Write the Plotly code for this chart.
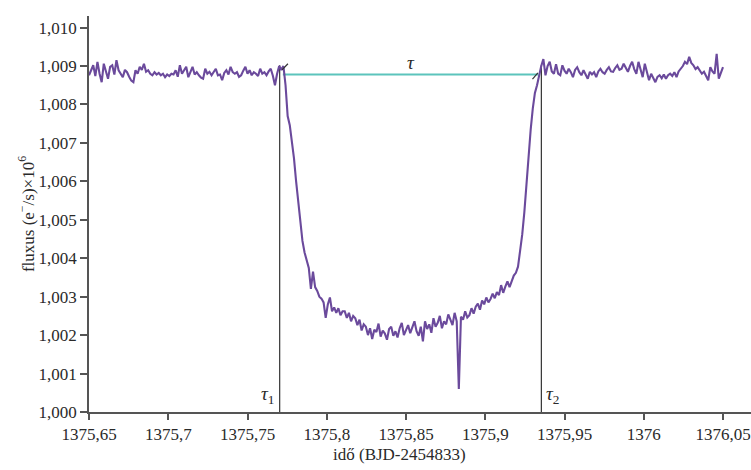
import numpy as np
import plotly.graph_objects as go

# Sampling grid of the light curve (days, BJD-2454833)
T_START = 1375.65
CADENCE = 0.4 / 300

# Flux (10^6 e-/s) before first contact
flux_pre = [
    1.00876, 1.00888, 1.00902, 1.00874, 1.00911, 1.00880, 1.00858, 1.00906, 1.00884, 1.00867,
    1.00898, 1.00902, 1.00878, 1.00915, 1.00889, 1.00880, 1.00871, 1.00890, 1.00884, 1.00872,
    1.00862, 1.00858, 1.00889, 1.00880, 1.00898, 1.00890, 1.00906, 1.00885, 1.00889, 1.00880,
    1.00876, 1.00884, 1.00878, 1.00882, 1.00876, 1.00880, 1.00871, 1.00878, 1.00874, 1.00880,
    1.00878, 1.00889, 1.00872, 1.00902, 1.00880, 1.00889, 1.00898, 1.00871, 1.00884, 1.00898,
    1.00878, 1.00884, 1.00876, 1.00870, 1.00867, 1.00893, 1.00880, 1.00885, 1.00876, 1.00884,
    1.00893, 1.00876, 1.00878, 1.00863, 1.00882, 1.00889, 1.00878, 1.00898, 1.00884, 1.00880,
    1.00884, 1.00872, 1.00876, 1.00888, 1.00898, 1.00880, 1.00889, 1.00876, 1.00884, 1.00880,
    1.00874, 1.00893, 1.00880, 1.00884, 1.00876, 1.00886, 1.00893, 1.00875, 1.00850, 1.00880,
    1.00900,
]

# Flux during the transit (ingress, bottom, egress)
flux_transit = [
    1.00890, 1.00900, 1.00850, 1.00770, 1.00746, 1.00705, 1.00660, 1.00600, 1.00545, 1.00495,
    1.00445, 1.00415, 1.00395, 1.00375, 1.00320, 1.00365, 1.00325, 1.00315, 1.00300, 1.00295,
    1.00285, 1.00245, 1.00280, 1.00298, 1.00262, 1.00272, 1.00258, 1.00270, 1.00252, 1.00262,
    1.00262, 1.00245, 1.00258, 1.00236, 1.00250, 1.00244, 1.00226, 1.00240, 1.00212, 1.00228,
    1.00222, 1.00200, 1.00218, 1.00190, 1.00214, 1.00208, 1.00230, 1.00196, 1.00212, 1.00204,
    1.00188, 1.00216, 1.00222, 1.00198, 1.00210, 1.00194, 1.00218, 1.00232, 1.00200, 1.00214,
    1.00226, 1.00205, 1.00218, 1.00236, 1.00210, 1.00198, 1.00222, 1.00184, 1.00236, 1.00216,
    1.00228, 1.00206, 1.00244, 1.00222, 1.00232, 1.00250, 1.00218, 1.00236, 1.00228, 1.00254,
    1.00240, 1.00226, 1.00258, 1.00236, 1.00060, 1.00248, 1.00240, 1.00262, 1.00246, 1.00252,
    1.00270, 1.00256, 1.00274, 1.00282, 1.00266, 1.00290, 1.00280, 1.00298, 1.00285, 1.00294,
    1.00308, 1.00296, 1.00312, 1.00304, 1.00330, 1.00310, 1.00326, 1.00340, 1.00325, 1.00342,
    1.00355, 1.00362, 1.00378, 1.00420, 1.00462, 1.00520, 1.00600, 1.00660, 1.00735, 1.00790,
    1.00830, 1.00850, 1.00878, 1.00900, 1.00918,
]

# Flux after last contact
flux_post = [
    1.00876, 1.00900, 1.00911, 1.00886, 1.00880, 1.00905, 1.00880, 1.00876, 1.00902, 1.00888,
    1.00880, 1.00893, 1.00884, 1.00871, 1.00890, 1.00897, 1.00884, 1.00876, 1.00889, 1.00878,
    1.00867, 1.00885, 1.00878, 1.00884, 1.00871, 1.00886, 1.00893, 1.00884, 1.00880, 1.00890,
    1.00897, 1.00886, 1.00885, 1.00895, 1.00902, 1.00890, 1.00893, 1.00906, 1.00895, 1.00885,
    1.00900, 1.00911, 1.00892, 1.00880, 1.00911, 1.00890, 1.00871, 1.00906, 1.00885, 1.00863,
    1.00880, 1.00870, 1.00858, 1.00872, 1.00876, 1.00868, 1.00878, 1.00867, 1.00876, 1.00880,
    1.00874, 1.00884, 1.00871, 1.00886, 1.00893, 1.00900, 1.00911, 1.00905, 1.00924, 1.00908,
    1.00902, 1.00892, 1.00897, 1.00888, 1.00880, 1.00885, 1.00875, 1.00863, 1.00897, 1.00886,
    1.00880, 1.00932, 1.00867, 1.00880, 1.00897,
]

# Contact times and the out-of-transit level
TAU1 = 1375.7703
TAU2 = 1375.9354
FLUX_OOT = 1.00878

x_tick_vals = [1375.65, 1375.70, 1375.75, 1375.80, 1375.85, 1375.90, 1375.95, 1376.00, 1376.05]
x_tick_text = ["1375,65", "1375,7", "1375,75", "1375,8", "1375,85", "1375,9", "1375,95", "1376", "1376,05"]
y_tick_vals = [1.000, 1.001, 1.002, 1.003, 1.004, 1.005, 1.006, 1.007, 1.008, 1.009, 1.010]
y_tick_text = ["1,000", "1,001", "1,002", "1,003", "1,004", "1,005",
               "1,006", "1,007", "1,008", "1,009", "1,010"]

flux = np.array(flux_pre + flux_transit + flux_post)
time = T_START + CADENCE * np.arange(len(flux))

FONT = "Liberation Serif"
TEXT = "#2a2a2a"
AXIS = "#555555"
PURPLE = "#6b4a9c"
TEAL = "#5cc4bc"

fig = go.Figure()
fig.add_trace(go.Scatter(
    x=time, y=flux, mode="lines",
    line=dict(color=PURPLE, width=2.1),
    hoverinfo="skip", showlegend=False,
))

shapes = [
    # first and last contact
    dict(type="line", xref="x", yref="y", x0=TAU1, x1=TAU1, y0=1.000, y1=1.00902,
         line=dict(color="#333333", width=1.2), layer="below"),
    dict(type="line", xref="x", yref="y", x0=TAU2, x1=TAU2, y0=1.000, y1=1.00902,
         line=dict(color="#333333", width=1.2), layer="below"),
    # transit duration bar
    dict(type="line", xref="x", yref="y", x0=TAU1 + 0.002, x1=TAU2 - 0.002,
         y0=FLUX_OOT, y1=FLUX_OOT, line=dict(color=TEAL, width=2.2), layer="below"),
    # end marks of the duration bar
    dict(type="line", xref="x", yref="y", x0=TAU1 + 0.0015, x1=TAU1 + 0.0052,
         y0=FLUX_OOT + 0.00012, y1=FLUX_OOT + 0.00028, line=dict(color="#333333", width=1.2)),
    dict(type="line", xref="x", yref="y", x0=TAU2 - 0.0056, x1=TAU2 - 0.0022,
         y0=FLUX_OOT - 0.00012, y1=FLUX_OOT + 0.00004, line=dict(color="#333333", width=1.2)),
]

annotations = [
    dict(x=(TAU1 + TAU2) / 2, y=FLUX_OOT, xref="x", yref="y", text="<i>τ</i>",
         showarrow=False, xanchor="center", yanchor="bottom", yshift=0,
         font=dict(family=FONT, size=19, color=TEXT)),
    dict(x=TAU1, y=1.000, xref="x", yref="y", text="<i>τ</i><sub>1</sub>",
         showarrow=False, xanchor="right", yanchor="bottom", xshift=-4, yshift=3,
         font=dict(family=FONT, size=19, color=TEXT)),
    dict(x=TAU2, y=1.000, xref="x", yref="y", text="<i>τ</i><sub>2</sub>",
         showarrow=False, xanchor="left", yanchor="bottom", xshift=3, yshift=3,
         font=dict(family=FONT, size=19, color=TEXT)),
    dict(x=0.469, y=0, xref="paper", yref="paper", text="idő (BJD-2454833)",
         showarrow=False, xanchor="center", yanchor="top", yshift=-31,
         font=dict(family=FONT, size=17, color=TEXT)),
]

fig.update_layout(
    width=751, height=470,
    margin=dict(l=89, r=0, t=16, b=58),
    paper_bgcolor="white", plot_bgcolor="white",
    font=dict(family=FONT, size=17, color=TEXT),
    shapes=shapes, annotations=annotations,
    showlegend=False,
)
fig.update_xaxes(
    range=[1375.65, 1375.65 + 662 / 79.25 * 0.05],
    tickvals=x_tick_vals, ticktext=x_tick_text,
    showgrid=False, zeroline=False,
    showline=True, linecolor=AXIS, linewidth=1.6,
    ticks="outside", ticklen=6, tickwidth=1.6, tickcolor=AXIS,
    tickfont=dict(family=FONT, size=17, color=TEXT),
)
fig.update_yaxes(
    range=[1.000, 1.000 + 396 / 38.44 * 0.001],
    tickvals=y_tick_vals, ticktext=y_tick_text,
    showgrid=False, zeroline=False,
    showline=True, linecolor=AXIS, linewidth=1.6,
    ticks="outside", ticklen=7, tickwidth=1.6, tickcolor=AXIS,
    tickfont=dict(family=FONT, size=17, color=TEXT),
    title=dict(text="fluxus (e<sup>−</sup>/s)×10<sup>6</sup>", standoff=0,
               font=dict(family=FONT, size=17, color=TEXT)),
)

fig.write_html("out.html")
